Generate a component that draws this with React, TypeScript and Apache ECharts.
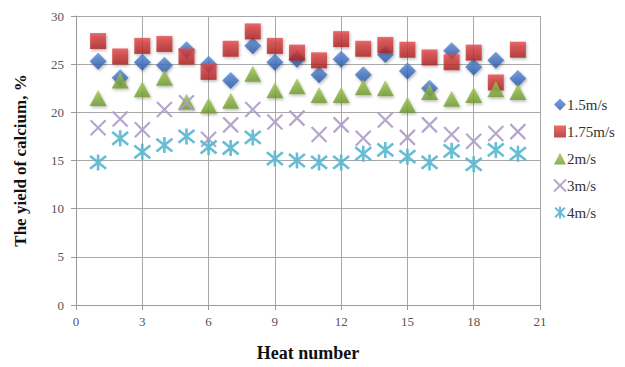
import React, { useEffect, useRef } from "react";
import * as echarts from "echarts";

const heats = [1, 2, 3, 4, 5, 6, 7, 8, 9, 10, 11, 12, 13, 14, 15, 16, 17, 18, 19, 20];
const s15 = [25.3, 23.6, 25.2, 24.9, 26.5, 25.0, 23.3, 26.9, 25.2, 25.5, 23.9, 25.5, 23.9, 26.0, 24.3, 22.5, 26.4, 24.7, 25.4, 23.5];
const s175 = [27.4, 25.8, 26.9, 27.1, 25.8, 24.2, 26.6, 28.4, 26.9, 26.2, 25.4, 27.6, 26.6, 27.0, 26.5, 25.7, 25.2, 26.2, 23.1, 26.5];
const s2 = [21.5, 23.3, 22.4, 23.6, 21.1, 20.7, 21.2, 24.0, 22.3, 22.7, 21.8, 21.8, 22.6, 22.5, 20.8, 22.1, 21.4, 21.8, 22.4, 22.1];
const s3 = [18.4, 19.3, 18.2, 20.3, 21.0, 17.2, 18.7, 20.3, 19.0, 19.4, 17.7, 18.7, 17.3, 19.2, 17.4, 18.7, 17.7, 17.0, 17.8, 18.0];
const s4 = [14.8, 17.3, 15.9, 16.6, 17.5, 16.4, 16.3, 17.4, 15.2, 15.0, 14.8, 14.8, 15.7, 16.1, 15.4, 14.8, 16.0, 14.6, 16.1, 15.7];
const seriesNames = ["1.5m/s", "1.75m/s", "2m/s", "3m/s", "4m/s"];

const serif = "'Liberation Serif', 'Times New Roman', serif";

const pair = (vals: number[]) => heats.map((h, i) => [h, vals[i]]);
const grad = (a: string, b: string) =>
  new echarts.graphic.LinearGradient(0, 0, 0, 1, [
    { offset: 0, color: a },
    { offset: 1, color: b },
  ]);
const shadow = { shadowBlur: 3, shadowColor: "rgba(0,0,0,0.35)", shadowOffsetX: 1, shadowOffsetY: 1.5 };

export default function App() {
  const ref = useRef<HTMLDivElement>(null);
  useEffect(() => {
    if (!ref.current) return;
    const chart = echarts.init(ref.current, undefined, { renderer: "svg" });
    chart.setOption({
      animation: false,
      backgroundColor: "#ffffff",
      grid: { left: 76, right: 85, top: 16, bottom: 59 },
      xAxis: {
        type: "value",
        min: 0,
        max: 21,
        interval: 3,
        name: "Heat number",
        nameLocation: "middle",
        nameGap: 39,
        nameTextStyle: { fontFamily: serif, fontSize: 18, fontWeight: "bold", color: "#111" },
        axisLine: { lineStyle: { color: "#9a9a9a" } },
        axisTick: { show: true, length: 5, lineStyle: { color: "#9a9a9a" } },
        axisLabel: { fontFamily: serif, fontSize: 13, color: "#555", margin: 10 },
        splitLine: { show: true, lineStyle: { color: "#a8a8a8" } },
      },
      yAxis: {
        type: "value",
        min: 0,
        max: 30,
        interval: 5,
        name: "The yield of calcium, %",
        nameLocation: "middle",
        nameGap: 47,
        nameTextStyle: { fontFamily: serif, fontSize: 17, fontWeight: "bold", color: "#111" },
        axisLine: { show: true, lineStyle: { color: "#9a9a9a" } },
        axisTick: { show: true, length: 5, lineStyle: { color: "#9a9a9a" } },
        axisLabel: { fontFamily: serif, fontSize: 13, color: "#555", margin: 12 },
        splitLine: { show: true, lineStyle: { color: "#a8a8a8" } },
      },
      legend: {
        orient: "vertical",
        left: 548,
        top: 92,
        itemGap: 12,
        itemWidth: 12,
        itemHeight: 12,
        textStyle: { fontFamily: serif, fontSize: 15, color: "#333", padding: [0, 0, 0, -4] },
        data: seriesNames,
      },
      series: [
        {
          name: seriesNames[0],
          type: "scatter",
          symbol: "diamond",
          symbolSize: [17, 17],
          data: pair(s15),
          itemStyle: { color: grad("#5a8cdc", "#2656a4"), ...shadow },
        },
        {
          name: seriesNames[1],
          type: "scatter",
          symbol: "rect",
          symbolSize: 16,
          data: pair(s175),
          itemStyle: { color: grad("#e44848", "#aa1e1e"), ...shadow },
        },
        {
          name: seriesNames[2],
          type: "scatter",
          symbol: "triangle",
          symbolSize: [17, 16],
          data: pair(s2),
          itemStyle: { color: grad("#a2c852", "#6c982a"), ...shadow },
        },
        {
          name: seriesNames[3],
          type: "scatter",
          symbol: "path://M0,0L10,10M10,0L0,10",
          symbolSize: 15,
          data: pair(s3),
          itemStyle: { color: "transparent", borderColor: "#ad9cc9", borderWidth: 2.2, opacity: 0.9 },
        },
        {
          name: seriesNames[4],
          type: "scatter",
          symbol: "path://M1,1L9,9M9,1L1,9M5,0L5,10",
          symbolSize: 16,
          data: pair(s4),
          itemStyle: { color: "transparent", borderColor: "#56b6cf", borderWidth: 2.6, opacity: 0.9 },
        },
      ],
    });
    return () => chart.dispose();
  }, []);
  return <div ref={ref} style={{ width: 625, height: 367, margin: -8 }} />;
}
